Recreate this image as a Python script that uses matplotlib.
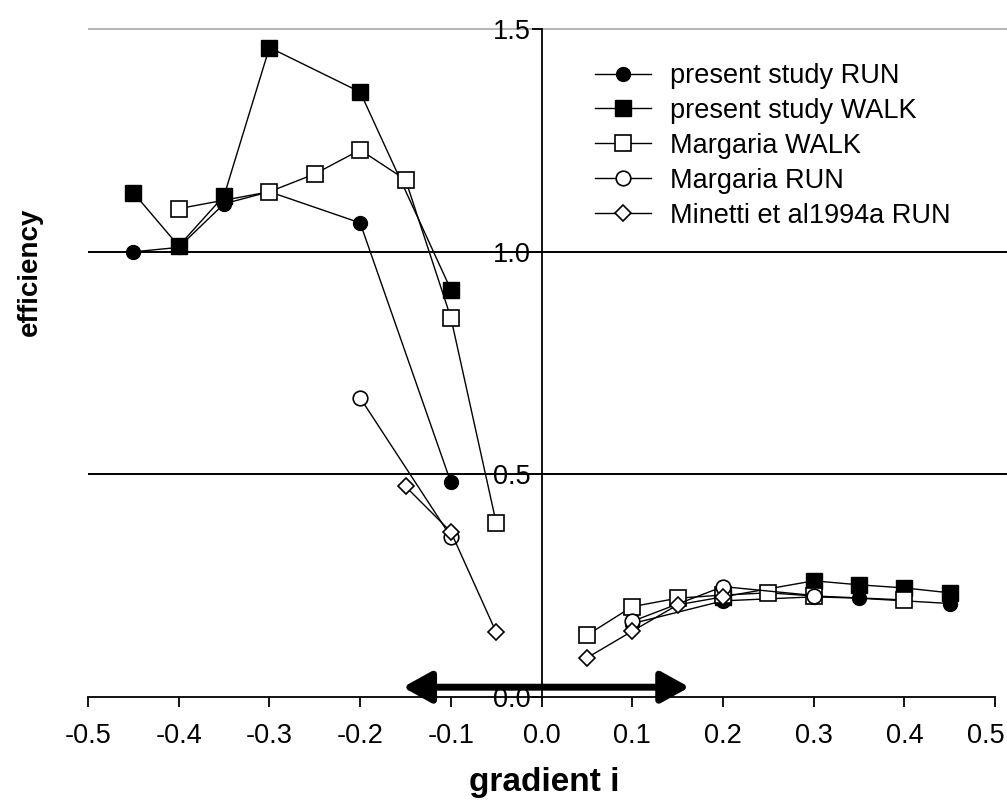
import numpy as np
import matplotlib
matplotlib.use("Agg")
import matplotlib.pyplot as plt
from matplotlib.ticker import FixedLocator, FormatStrFormatter
from matplotlib.transforms import ScaledTranslation

plt.rcParams['font.family'] = ['Liberation Sans', 'DejaVu Sans']
plt.rcParams['axes.unicode_minus'] = False

nan = np.nan

# present study RUN (filled circles)
run_x = [-0.45, -0.4, -0.35, -0.3, -0.2, -0.1, nan, 0.1, 0.2, 0.3, 0.35, 0.45]
run_y = [1.0, 1.01, 1.108, 1.135, 1.065, 0.482, nan, 0.165, 0.216, 0.225, 0.222, 0.21]

# present study WALK (filled squares)
walk_x = [-0.45, -0.4, -0.35, -0.3, -0.2, -0.1, nan, 0.2, 0.3, 0.35, 0.4, 0.45]
walk_y = [1.133, 1.013, 1.126, 1.459, 1.359, 0.915, nan, 0.225, 0.261, 0.252, 0.245, 0.234]

# Margaria WALK (open squares)
mwalk_x = [-0.4, -0.3, -0.25, -0.2, -0.15, -0.1, -0.05, nan, 0.05, 0.1, 0.15, 0.2, 0.25, 0.3, 0.4]
mwalk_y = [1.097, 1.135, 1.175, 1.229, 1.162, 0.852, 0.391, nan, 0.139, 0.203, 0.222, 0.229, 0.234, 0.227, 0.218]

# Margaria RUN (open circles)
mrun_x = [-0.2, -0.1, nan, 0.1, 0.2, 0.3]
mrun_y = [0.672, 0.36, nan, 0.17, 0.248, 0.228]

# Minetti et al 1994a RUN (open diamonds)
min_x = [-0.15, -0.1, -0.05, nan, 0.05, 0.1, 0.15, 0.2]
min_y = [0.473, 0.371, 0.145, nan, 0.088, 0.148, 0.207, 0.225]

labels = ["present study RUN", "present study WALK", "Margaria WALK",
          "Margaria RUN", "Minetti et al1994a RUN"]

fig = plt.figure(figsize=(10.07, 8.02), dpi=100)
ax = fig.add_axes([88 / 1007, 105 / 802, 919 / 1007, 690 / 802])
ax.set_xlim(-0.5, 0.513)
ax.set_ylim(0, 1.55)

# reference lines
ax.axhline(1.5, color='#aaaaaa', lw=1.2, zorder=1)
ax.axhline(1.0, color='black', lw=1.4, zorder=1)
ax.axhline(0.5, color='black', lw=1.4, zorder=1)

lw = 1.0
h1, = ax.plot(run_x, run_y, color='black', lw=lw, marker='o', ms=10,
              mfc='black', mec='black', zorder=3, label=labels[0])
h2, = ax.plot(walk_x, walk_y, color='black', lw=lw, marker='s', ms=11.3,
              mfc='black', mec='black', zorder=4, label=labels[1])
h3, = ax.plot(mwalk_x, mwalk_y, color='black', lw=lw, marker='s', ms=11,
              mfc='white', mec='black', mew=1.2, zorder=5, label=labels[2])
h4, = ax.plot(mrun_x, mrun_y, color='black', lw=lw, marker='o', ms=10.5,
              mfc='white', mec='black', mew=1.2, zorder=6, label=labels[3])
h5, = ax.plot(min_x, min_y, color='black', lw=lw, marker='D', ms=8,
              mfc='white', mec='black', mew=1.2, zorder=7, label=labels[4])

# spines: x-axis along y=0, y-axis at x=0
for s in ['top', 'right']:
    ax.spines[s].set_visible(False)
ax.spines['left'].set_position(('data', 0))
ax.spines['left'].set_bounds(0, 1.5)
ax.spines['bottom'].set_bounds(-0.5, 0.5)
ax.spines['left'].set_linewidth(1.3)
ax.spines['bottom'].set_linewidth(1.3)

ax.xaxis.set_major_locator(FixedLocator(np.arange(-5, 6) / 10))
ax.xaxis.set_major_formatter(FormatStrFormatter('%.1f'))
ax.yaxis.set_major_locator(FixedLocator([0.0, 0.5, 1.0, 1.5]))
ax.yaxis.set_major_formatter(FormatStrFormatter('%.1f'))
ax.tick_params(axis='x', direction='out', length=7, width=1.3, pad=12,
               labelsize=19.5)
ax.tick_params(axis='y', direction='out', length=7, width=1.3, pad=1,
               labelsize=19.5)

# last x tick label sits against the right edge of the figure
fig.canvas.draw()
last = ax.get_xticklabels()[-1]
last.set_transform(last.get_transform() + ScaledTranslation(-9 / 100, 0, fig.dpi_scale_trans))

# double-headed arrow
ax.annotate('', xy=(0.163, 0.022), xytext=(-0.153, 0.022),
            arrowprops=dict(arrowstyle='<|-|>,head_length=0.85,head_width=0.47',
                            lw=5, color='black', mutation_scale=20,
                            shrinkA=0, shrinkB=0),
            zorder=10, annotation_clip=False)

fig.legend(handles=[h1, h2, h3, h4, h5], loc='upper left',
           bbox_to_anchor=(595 / 1007, 1 - 63 / 802), frameon=False,
           fontsize=19.5, handlelength=2.05, handletextpad=0.72,
           labelspacing=0.33, borderpad=0, borderaxespad=0)

fig.text(30 / 1007, 1 - 272 / 802, 'efficiency', rotation=90, ha='center',
         va='center', fontsize=20, fontweight='bold')
fig.text(544 / 1007, 1 - 783 / 802, 'gradient i', ha='center', va='center',
         fontsize=24, fontweight='bold')

fig.savefig('out.png', dpi=100)
